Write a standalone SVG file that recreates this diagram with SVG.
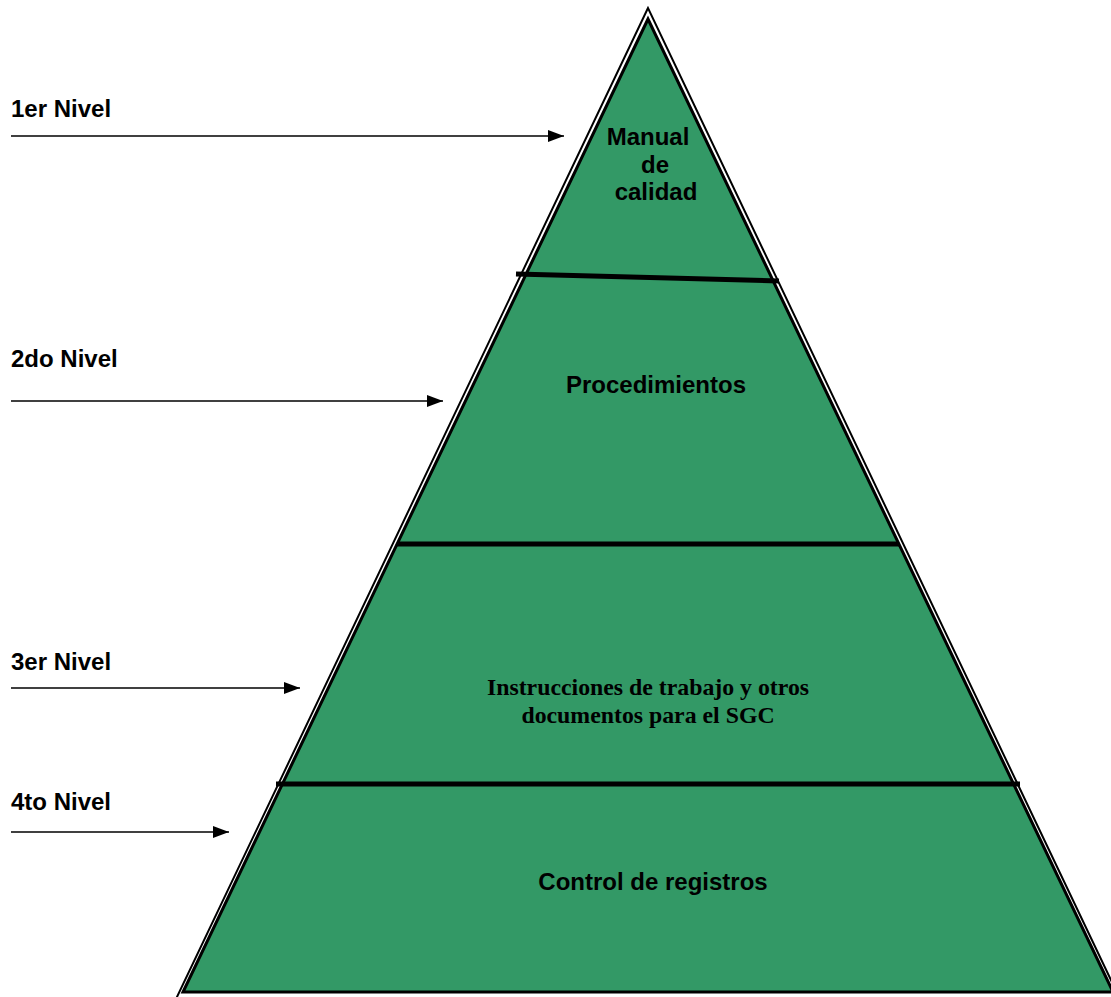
<svg xmlns="http://www.w3.org/2000/svg" width="1111" height="997" viewBox="0 0 1111 997">
  <defs>
    <marker id="arrow" viewBox="0 0 16 12" refX="16" refY="6" markerWidth="16" markerHeight="12" markerUnits="userSpaceOnUse" orient="auto">
      <path d="M0,0 L16,6 L0,12 Z" fill="#000"/>
    </marker>
  </defs>
  <style>
    .lbl { font-family: "Liberation Sans", Arial, sans-serif; font-weight: bold; font-size: 24px; fill: #000; }
    .ser { font-family: "Liberation Serif", "Times New Roman", serif; font-weight: bold; font-size: 23.8px; fill: #000; }
    .arr { stroke: #000; stroke-width: 1.6; fill: none; marker-end: url(#arrow); }
    .div { stroke: #000; stroke-width: 5; }
  </style>

  <rect width="1111" height="997" fill="#fff"/>

  <!-- pyramid body: thin outer outline, white gap, green inner triangle -->
  <g id="pyramid">
    <polygon points="648,8 176,999 1120,999" fill="#fff" stroke="#000" stroke-width="2"/>
    <polygon points="648,19 183,992 1113,992" fill="#339966" stroke="#000" stroke-width="3"/>
  </g>

  <!-- level separators -->
  <g id="separators">
    <line class="div" x1="516" y1="274" x2="779" y2="281"/>
    <line class="div" x1="397" y1="544" x2="899" y2="544"/>
    <line class="div" x1="276" y1="784" x2="1020" y2="784"/>
  </g>

  <g id="level1">
    <text class="lbl" x="648" y="145" text-anchor="middle">Manual</text>
    <text class="lbl" x="655" y="173" text-anchor="middle">de</text>
    <text class="lbl" x="656" y="200" text-anchor="middle">calidad</text>
  </g>
  <g id="level2">
    <text class="lbl" x="656" y="393" text-anchor="middle">Procedimientos</text>
  </g>
  <g id="level3">
    <text class="ser" x="648" y="695" text-anchor="middle">Instrucciones de trabajo y otros</text>
    <text class="ser" x="648" y="723" text-anchor="middle">documentos para el SGC</text>
  </g>
  <g id="level4">
    <text class="lbl" x="653" y="890" text-anchor="middle">Control de registros</text>
  </g>

  <!-- side labels -->
  <g id="labels">
    <text class="lbl" x="11" y="117">1er Nivel</text>
    <text class="lbl" x="11" y="367">2do Nivel</text>
    <text class="lbl" x="11" y="670">3er Nivel</text>
    <text class="lbl" x="11" y="810">4to Nivel</text>
  </g>

  <!-- connectors -->
  <g id="connectors">
    <line class="arr" x1="11" y1="136" x2="564" y2="136"/>
    <line class="arr" x1="11" y1="401" x2="443" y2="401"/>
    <line class="arr" x1="11" y1="688" x2="300" y2="688"/>
    <line class="arr" x1="11" y1="832" x2="229" y2="832"/>
  </g>
</svg>
